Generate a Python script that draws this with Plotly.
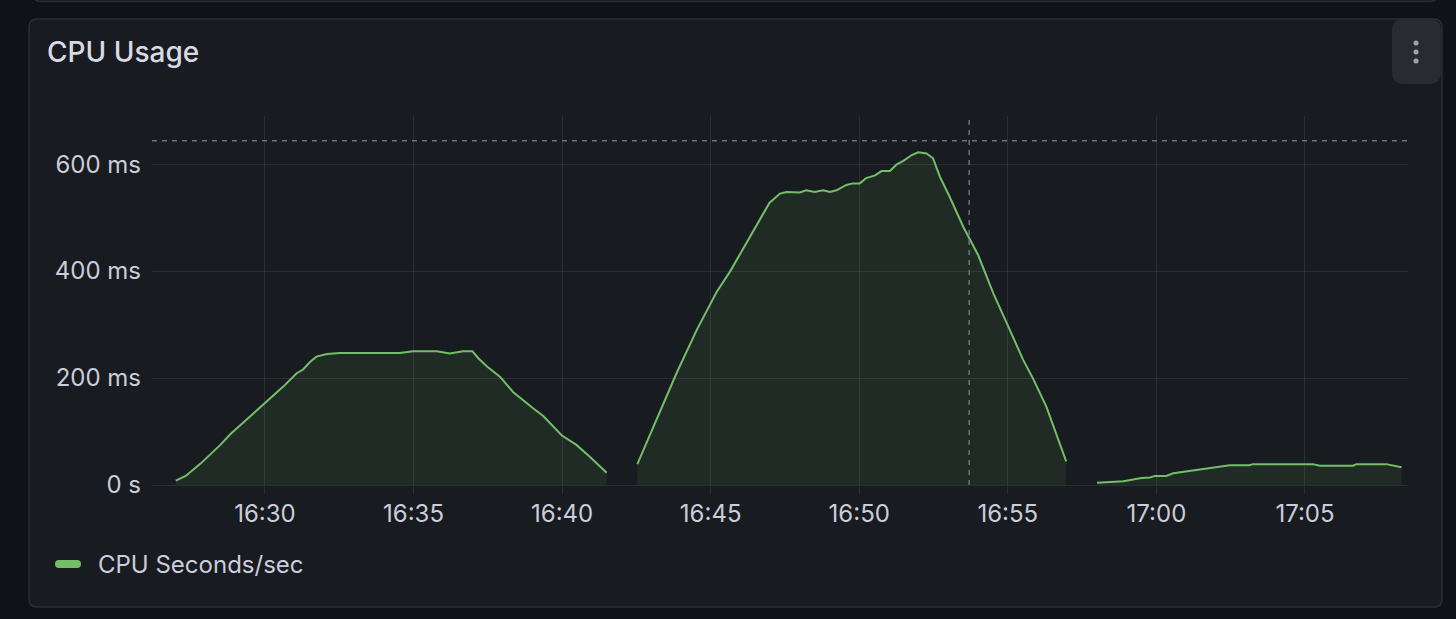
import plotly.graph_objects as go

DAY = "2024-05-14 "

# CPU Seconds/sec in milliseconds.
# Three separate runs, with no samples in the gaps between them.
run1_times = ["16:27:00", "16:27:20", "16:27:50", "16:28:30", "16:28:50", "16:29:30",
              "16:29:50", "16:30:10", "16:30:37", "16:31:04", "16:31:17", "16:31:31",
              "16:31:44", "16:32:05", "16:32:31", "16:34:32", "16:34:59", "16:35:47",
              "16:36:13", "16:36:40", "16:36:59", "16:37:11", "16:37:28", "16:37:55",
              "16:38:21", "16:39:02", "16:39:22", "16:39:59", "16:40:29", "16:40:56",
              "16:41:30"]
run1_ms = [8, 17, 40, 75, 95, 128,
           146, 162, 184, 209, 216, 230,
           240, 245, 247, 247, 250, 250,
           246, 250, 250, 237, 222, 202,
           174, 143, 129, 93, 75, 53,
           23]

run2_times = ["16:42:32", "16:43:04", "16:43:51", "16:44:32", "16:45:12", "16:45:39",
              "16:46:16", "16:46:36", "16:46:59", "16:47:20", "16:47:33", "16:48:00",
              "16:48:13", "16:48:30", "16:48:47", "16:49:01", "16:49:14", "16:49:34",
              "16:49:47", "16:50:01", "16:50:14", "16:50:32", "16:50:45", "16:51:02",
              "16:51:15", "16:51:29", "16:51:46", "16:51:59", "16:52:16", "16:52:29",
              "16:52:43", "16:53:03", "16:53:30", "16:54:00", "16:54:31", "16:55:04",
              "16:55:31", "16:55:51", "16:56:18", "16:56:58"]
run2_ms = [39, 109, 209, 290, 361, 399,
           458, 489, 528, 545, 548, 547,
           551, 548, 551, 548, 551, 561,
           564, 564, 574, 579, 587, 587,
           599, 606, 617, 622, 620, 611,
           576, 538, 483, 430, 358, 290,
           234, 199, 146, 44]

run3_times = ["16:58:00", "16:58:53", "16:59:30", "16:59:47", "16:59:57", "17:00:20",
              "17:00:34", "17:01:21", "17:01:55", "17:02:28", "17:03:08", "17:03:15",
              "17:05:16", "17:05:30", "17:06:37", "17:06:44", "17:07:44", "17:08:15"]
run3_ms = [4, 7, 13, 14, 17, 17,
           22, 28, 32, 37, 37, 39,
           39, 36, 36, 39, 39, 33]

y_ticks = [0, 200, 400, 600]
y_labels = ["0 s", "200 ms", "400 ms", "600 ms"]

# crosshair position (hovered cursor)
cursor_time = "16:53:42"
cursor_ms = 643.6

# Grafana dark theme
CANVAS = "#111217"
PANEL = "#181b1f"
BORDER = "#2c2e34"
TEXT = "#ccccdc"
GREEN = "#73bf69"
GRID = "rgba(204,204,220,0.10)"

# plot area in page pixels
W, H = 1456, 619
L, R, T, B = 152, 1408, 116, 485


def fx(px):
    return (px - L) / (R - L)


def fy(py):
    return (B - py) / (B - T)


def rounded_rect(x0, y0, x1, y1, r):
    # pixel box -> path in paper coords, corners done with quadratic curves
    p = lambda x, y: f"{fx(x)},{fy(y)}"
    return (f"M {p(x0 + r, y0)} L {p(x1 - r, y0)} Q {p(x1, y0)} {p(x1, y0 + r)} "
            f"L {p(x1, y1 - r)} Q {p(x1, y1)} {p(x1 - r, y1)} "
            f"L {p(x0 + r, y1)} Q {p(x0, y1)} {p(x0, y1 - r)} "
            f"L {p(x0, y0 + r)} Q {p(x0, y0)} {p(x0 + r, y0)} Z")


fig = go.Figure()

for times, vals in [(run1_times, run1_ms), (run2_times, run2_ms), (run3_times, run3_ms)]:
    fig.add_trace(go.Scatter(
        x=[DAY + t for t in times],
        y=vals,
        mode="lines",
        line=dict(color=GREEN, width=2),
        fill="tozeroy",
        fillcolor="rgba(115,191,105,0.10)",
        name="CPU Seconds/sec",
        showlegend=False,
        hoverinfo="skip",
    ))

shapes = [
    # panel above (only its bottom edge is visible)
    dict(type="path", xref="paper", yref="paper", layer="below",
         path=rounded_rect(33, -40, 1438, 1.5, 8),
         fillcolor=PANEL, line=dict(color=BORDER, width=1.5)),
    # this panel
    dict(type="path", xref="paper", yref="paper", layer="below",
         path=rounded_rect(29, 19, 1442, 607, 8),
         fillcolor=PANEL, line=dict(color=BORDER, width=1.5)),
    # menu button
    dict(type="path", xref="paper", yref="paper", layer="above",
         path=rounded_rect(1392, 19, 1441, 84, 12),
         fillcolor="#2a2b31", line=dict(width=0)),
    # crosshair
    dict(type="line", xref="x", yref="paper", x0=DAY + cursor_time, x1=DAY + cursor_time,
         y0=0, y1=1, line=dict(color="#707178", width=1.5, dash="5px,5px")),
    dict(type="line", xref="paper", yref="y", x0=0, x1=1, y0=cursor_ms, y1=cursor_ms,
         line=dict(color="#707178", width=1.5, dash="5px,5px")),
    # legend swatch
    dict(type="path", xref="paper", yref="paper",
         path=rounded_rect(55, 560, 81, 568, 4),
         fillcolor=GREEN, line=dict(width=0)),
]
for cy in [43, 52, 61]:
    shapes.append(dict(type="circle", xref="paper", yref="paper",
                       x0=fx(1413.5), x1=fx(1418.5), y0=fy(cy + 2.5), y1=fy(cy - 2.5),
                       fillcolor="#a2a3ae", line=dict(width=0)))

fig.update_layout(
    width=W, height=H,
    margin=dict(l=L, r=W - R, t=T, b=H - B, pad=0),
    paper_bgcolor=CANVAS,
    plot_bgcolor="rgba(0,0,0,0)",
    font=dict(family="Inter", size=24, color=TEXT),
    showlegend=False,
    shapes=shapes,
    annotations=[
        dict(text="CPU Usage", xref="paper", yref="paper", x=fx(45), y=fy(52),
             xanchor="left", yanchor="middle", showarrow=False,
             font=dict(family="Inter", size=28, weight=500, color="#d8d9e4")),
        dict(text="CPU Seconds/sec", xref="paper", yref="paper", x=fx(96), y=fy(564),
             xanchor="left", yanchor="middle", showarrow=False,
             font=dict(family="Inter", size=24, color=TEXT)),
    ],
    xaxis=dict(
        type="date",
        range=[DAY + "16:26:12", DAY + "17:08:28"],
        tick0=DAY + "16:30:00", dtick=300000, tickformat="%H:%M",
        showgrid=True, gridcolor=GRID, gridwidth=1,
        ticks="outside", ticklen=8, tickcolor=GRID, tickwidth=1,
        ticklabelstandoff=-1,
        showline=False, zeroline=False,
        tickfont=dict(size=24, color=TEXT),
    ),
    yaxis=dict(
        range=[0, 690],
        tickvals=y_ticks, ticktext=y_labels,
        showgrid=True, gridcolor=GRID, gridwidth=1,
        zeroline=True, zerolinecolor=GRID, zerolinewidth=1,
        ticks="", ticklabelstandoff=10,
        showline=False,
        tickfont=dict(size=24, color=TEXT),
    ),
)

# page body margin would push the figure off the window origin
fig.write_html("out.html", config={"displayModeBar": False},
               post_script="document.body.style.margin='0';"
                           "document.body.style.background='#111217';")
